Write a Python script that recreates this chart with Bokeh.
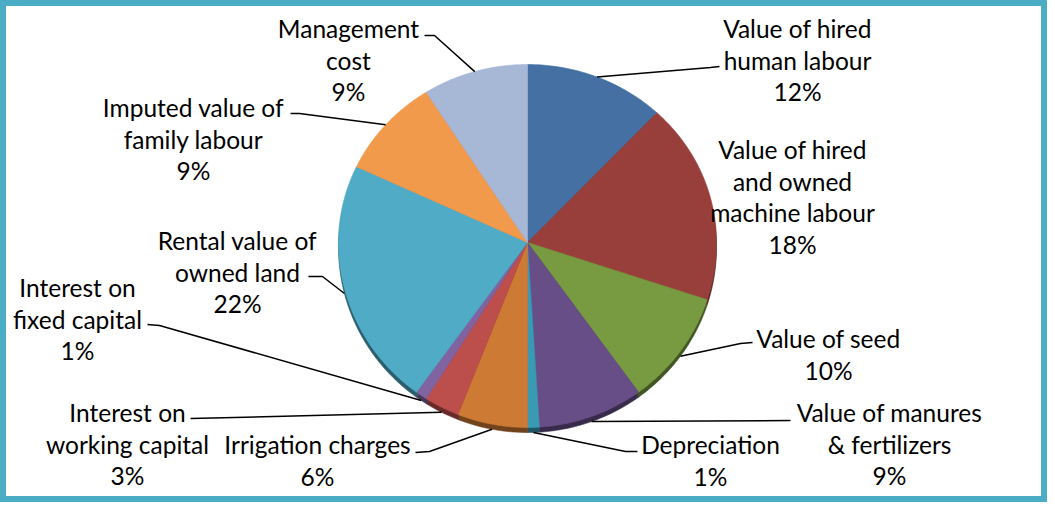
import numpy as np
from bokeh.plotting import figure
from bokeh.models import Range1d, ColumnDataSource
from bokeh.core.properties import value
from bokeh.embed import file_html
from bokeh.resources import INLINE

# ---------------- data ----------------
categories = [
    "Value of hired\nhuman labour",
    "Value of hired\nand owned\nmachine labour",
    "Value of seed",
    "Value of manures\n& fertilizers",
    "Depreciation",
    "Irrigation charges",
    "Interest on\nworking capital",
    "Interest on\nfixed capital",
    "Rental value of\nowned land",
    "Imputed value of\nfamily labour",
    "Management\ncost",
]
shares = [12, 18, 10, 9, 1, 6, 3, 1, 22, 9, 9]
colors = ["#4470A3", "#983F3C", "#789A41", "#674E87", "#3A9AB3", "#CC7A34",
          "#BC4E4B", "#8063A0", "#4FABC6", "#F29A4C", "#A7B7D6"]

# ---------------- layout (screen pixel coordinates) ----------------
CX, CY, RX, RY_TOP, RY_BOT, DEPTH = 535, 250, 189, 178, 185, 5
label_pos = [  # centre x, y of first line
    (805, 36), (800, 157), (836, 346), (897, 420), (718, 452), (325, 452),
    (135, 420), (85, 295), (245, 248), (201, 115), (356, 36),
]
leader_pts = [  # label-side points of each leader line
    [(727, 74), (718, 75)],
    None,
    [(760, 350), (748, 351)],
    [(798, 428)],
    [(645, 459), (633, 459)],
    [(423, 460), (437, 459)],
    [(198, 426)],
    [(155, 332), (167, 333)],
    [(316, 284), (330, 284)],
    [(298, 121), (307, 121)],
    [(432, 43), (442, 43)],
]
LINE_H = 31.7


def ell(theta, dy=0.0):
    """point on the (slightly perspective) ellipse, theta clockwise from 12 o'clock"""
    c = np.cos(theta)
    ry = np.where(c > 0, RY_TOP, RY_BOT)
    return CX + RX * np.sin(theta), CY - ry * c + dy


def darker(hexc, f=0.55):
    r, g, b = (int(hexc[i:i + 2], 16) for i in (1, 3, 5))
    return "#%02x%02x%02x" % (int(r * f), int(g * f), int(b * f))


total = float(sum(shares))
ends = np.cumsum(shares) / total * 2 * np.pi
starts = np.concatenate([[0.0], ends[:-1]])

p = figure(width=1047, height=502, output_backend="svg", toolbar_location=None,
           x_range=Range1d(8, 1055), y_range=Range1d(510, 8), min_border=0)
p.axis.visible = False
p.grid.visible = False
p.outline_line_color = "#4BACC6"
p.outline_line_width = 11
p.background_fill_color = "white"
p.border_fill_color = "white"

# side (3D depth) and top faces
for dy, top in ((DEPTH, False), (0, True)):
    xs, ys, fc = [], [], []
    for s, e, c in zip(starts, ends, colors):
        th = np.linspace(s, e, max(4, int((e - s) * 80)))
        ax, ay = ell(th, dy)
        xs.append([CX] + list(ax))
        ys.append([CY + dy] + list(ay))
        fc.append(c if top else darker(c))
    p.patches(xs, ys, fill_color=fc, line_color=fc, line_width=0.6)

# leader lines
lx, ly = [], []
for s, e, pts in zip(starts, ends, leader_pts):
    if pts is None:
        continue
    mid = (s + e) / 2
    ex, ey = ell(np.array([mid]), DEPTH if np.cos(mid) < 0 else 0)
    lx.append([q[0] for q in pts] + [float(ex[0])])
    ly.append([q[1] for q in pts] + [float(ey[0])])
p.multi_line(lx, ly, line_color="black", line_width=1.5)

# labels
tx, ty, tt = [], [], []
for cat, v, (x0, y0) in zip(categories, shares, label_pos):
    lines = cat.split("\n") + [f"{v}%"]
    for i, t in enumerate(lines):
        tx.append(x0)
        ty.append(y0 + i * LINE_H)
        tt.append(t)
src = ColumnDataSource(dict(x=tx, y=ty, text=tt))
p.text("x", "y", "text", source=src, text_align="center", text_baseline="middle",
       text_font=value("Lato"), text_font_size="24.5px", text_color="black")

open("out.html", "w").write(file_html(p, INLINE))
